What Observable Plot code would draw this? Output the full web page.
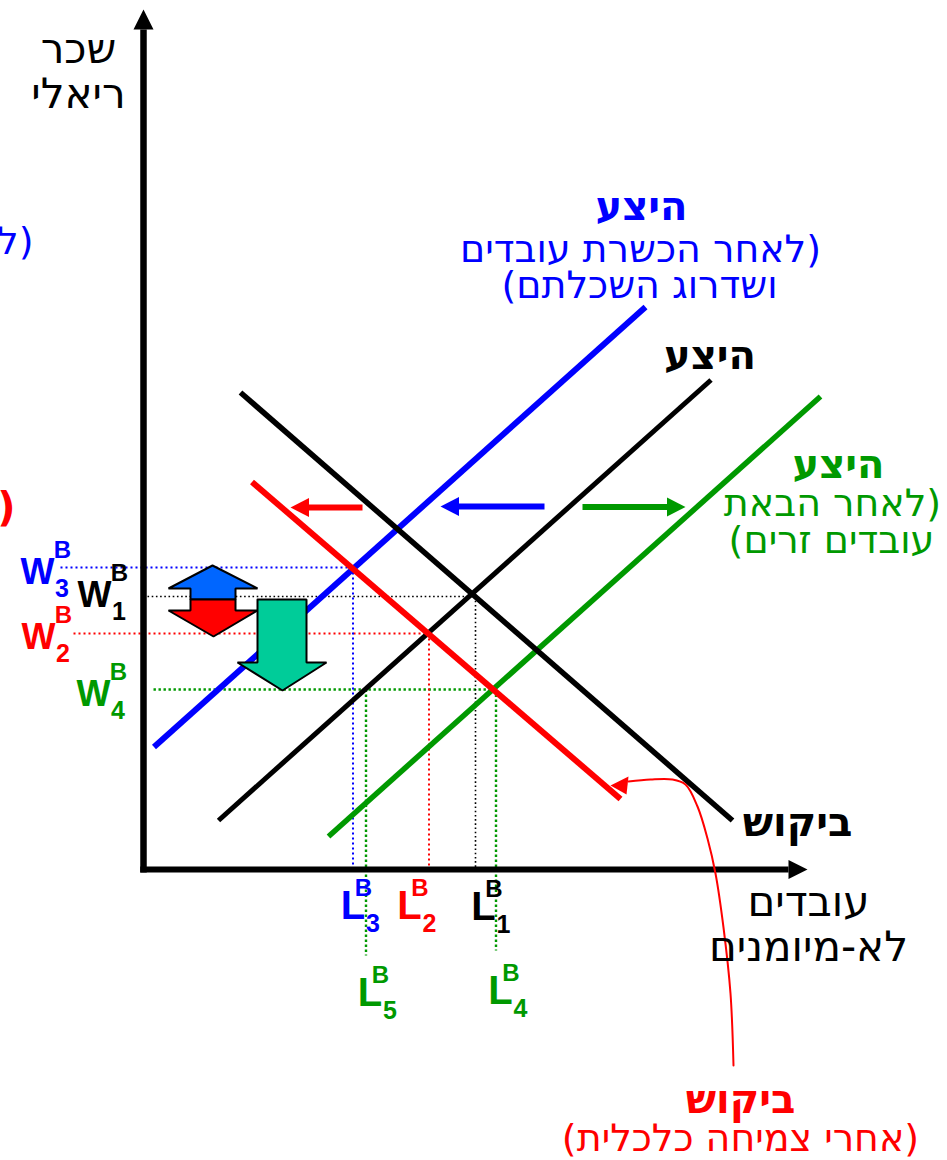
<!DOCTYPE html>
<html><head><meta charset="utf-8">
<script src="https://cdn.jsdelivr.net/npm/d3@7"></script>
<script src="https://cdn.jsdelivr.net/npm/@observablehq/plot@0.6"></script>
<style>
html,body{margin:0;padding:0;background:#fff;}
#chart svg{display:block;background:#fff;}
</style></head>
<body><div id="chart"></div>
<script>
const curveNames  = ["S1", "S3", "S4", "D1", "D2"];
const curveStartX = [1.50, 0.21, 3.70, 1.94, 2.17];
const curveStartY = [0.98, 2.45, 0.66, 9.54, 7.75];
const curveEndX   = [11.35, 10.04, 13.54, 11.78, 9.54];
const curveEndY   = [9.79, 11.25, 9.46, 0.98, 1.41];

const wageNames  = ["W1", "W2", "W3", "W4"];
const wageSubs   = ["1", "2", "3", "4"];
const wageValues = [5.46, 4.72, 6.04, 3.60];
const wageGuideStart = [0.08, -1.40, -1.66, 0.20];   // where each dotted wage guide begins
const wageGuideEnd   = [6.64, 5.71, 4.19, 7.05];     // = L1, L2, L3, L4

const laborNames  = ["L1", "L2", "L3", "L4", "L5"];
const laborSubs   = ["1", "2", "3", "4", "5"];
const laborValues = [6.64, 5.71, 4.19, 7.05, 4.45];
const laborGuideTop    = [5.46, 4.72, 6.04, 3.60, 3.60];
const laborGuideBottom = [0, 0, 0, -1.62, -1.72];

const shiftFromX = [4.38, 8.02, 8.78];   // D1→D2, S1→S3, S1→S4
const shiftToX   = [2.94, 5.94, 10.84];
const shiftY     = [7.24, 7.26, 7.25];

const upArrowX   = [1.38, 2.28, 1.84, 1.84, 0.94, 0.94, 0.50];
const upArrowY   = [6.08, 5.62, 5.62, 5.40, 5.40, 5.62, 5.62];
const downArrowX = [0.94, 1.84, 1.84, 2.28, 1.40, 0.50, 0.94];
const downArrowY = [5.40, 5.40, 5.18, 5.18, 4.66, 5.18, 5.18];
const bigDownX   = [2.28, 3.26, 3.26, 3.66, 2.78, 1.88, 2.28];
const bigDownY   = [5.40, 5.40, 4.14, 4.14, 3.58, 4.14, 4.14];

const calloutX = [9.70, 10.14, 10.58, 10.84, 11.08, 11.28, 11.44, 11.60, 11.74, 11.80];
const calloutY = [1.76, 1.80, 1.80, 1.70, 1.26, 0.62, -0.08, -1.16, -2.48, -3.92];
const calloutHeadX = [9.34, 9.70, 9.66];
const calloutHeadY = [1.68, 1.86, 1.50];

const yAxisTop = 17.2;
const xAxisEnd = 13.28;

const yAxisLabel = ["שכר", "ריאלי"];
const xAxisLabel = ["עובדים", "לא-מיומנים"];
const supplyLabel = "היצע";
const demandLabel = "ביקוש";
const s3Note = ["(לאחר הכשרת עובדים", "ושדרוג השכלתם)"];
const s4Note = ["(לאחר הבאת", "עובדים זרים)"];
const d2Note = "(אחרי צמיחה כלכלית)";
const supLetter = "B";

// ---------------- STYLE ----------------
const BLUE = "#0000ff", RED = "#ff0000", GREEN = "#009900", BLACK = "#000000";
const curveStyle = {
  S1: {stroke: BLACK, w: 5}, S3: {stroke: BLUE, w: 6}, S4: {stroke: GREEN, w: 5.5},
  D1: {stroke: BLACK, w: 5.5}, D2: {stroke: RED, w: 6}
};
const wageColor  = {W1: BLACK, W2: RED, W3: BLUE, W4: GREEN};
const laborColor = {L1: BLACK, L2: RED, L3: BLUE, L4: GREEN, L5: GREEN};
const dotStyle = {
  [BLACK]: {w: 1.6, dash: "1.6 2.6"},
  [RED]:   {w: 2,   dash: "2 3"},
  [BLUE]:  {w: 2,   dash: "2 3"},
  [GREEN]: {w: 2.4, dash: "2.4 2.6"}
};
// label offsets in px (layout)
const wOff = {W1: [-49, 10], W2: [-105, 15], W3: [-106, 16], W4: [-50, 16]};
const lOff = {L1: [8, 50], L2: [-19.5, 49], L3: [0, 49], L4: [4.5, 134], L5: [4, 136]};
const FONT = "'Liberation Sans', Arial, sans-serif";
const HEB = "'DejaVu Sans', sans-serif";
const AXIS_SIZE = 42, BOLD_SIZE = 40, NOTE_SIZE = 38;

// ---------------- BUILD ----------------
const curves = curveNames.map((name, i) => ({name, x1: curveStartX[i], y1: curveStartY[i], x2: curveEndX[i], y2: curveEndY[i]}));
const hGuides = wageNames.map((name, i) => ({name, x1: wageGuideStart[i], x2: wageGuideEnd[i], y: wageValues[i], c: wageColor[name]}));
const vGuides = laborNames.map((name, i) => ({name, x: laborValues[i], y1: laborGuideTop[i], y2: laborGuideBottom[i], c: laborColor[name]}));
const poly = (xs, ys) => { const p = xs.map((x, i) => ({x, y: ys[i]})); p.push(p[0]); return p; };

const marks = [];

// dotted guides
for (const g of hGuides) {
  const s = dotStyle[g.c];
  marks.push(Plot.link([g], {x1: "x1", x2: "x2", y1: "y", y2: "y", stroke: g.c, strokeWidth: s.w, strokeDasharray: s.dash, strokeLinecap: "butt"}));
}
for (const g of vGuides) {
  const s = dotStyle[g.c];
  marks.push(Plot.link([g], {x1: "x", x2: "x", y1: "y1", y2: "y2", stroke: g.c, strokeWidth: s.w, strokeDasharray: s.dash, strokeLinecap: "butt"}));
}

// supply & demand curves
for (const name of ["S4", "S1", "S3", "D1", "D2"]) {
  const c = curves.find(d => d.name === name);
  marks.push(Plot.link([c], {x1: "x1", y1: "y1", x2: "x2", y2: "y2", stroke: curveStyle[name].stroke, strokeWidth: curveStyle[name].w, strokeLinecap: "butt"}));
}

// shift arrows
const shiftColors = [RED, BLUE, GREEN];
shiftFromX.forEach((fx, i) => {
  const tx = shiftToX[i], y = shiftY[i], sgn = Math.sign(tx - fx);
  const headLen = 0.37, half = 0.19;
  const base = tx - sgn * headLen;
  marks.push(Plot.link([{fx, bx: base + sgn * 0.05, y}], {x1: "fx", x2: "bx", y1: "y", y2: "y", stroke: shiftColors[i], strokeWidth: 6, strokeLinecap: "butt"}));
  marks.push(Plot.line(poly([tx, base, base], [y, y + half, y - half]), {x: "x", y: "y", fill: shiftColors[i], stroke: "none"}));
});

// block arrows
marks.push(Plot.line(poly(upArrowX, upArrowY), {x: "x", y: "y", fill: "#0066ff", stroke: BLACK, strokeWidth: 2, strokeLinejoin: "miter"}));
marks.push(Plot.line(poly(downArrowX, downArrowY), {x: "x", y: "y", fill: "#ff0000", stroke: BLACK, strokeWidth: 2, strokeLinejoin: "miter"}));
marks.push(Plot.line(poly(bigDownX, bigDownY), {x: "x", y: "y", fill: "#00cc99", stroke: BLACK, strokeWidth: 2, strokeLinejoin: "miter"}));

// axes
marks.push(Plot.link([{x: 0, y1: -0.06, y2: yAxisTop - 0.4}], {x1: "x", x2: "x", y1: "y1", y2: "y2", stroke: BLACK, strokeWidth: 6.5, strokeLinecap: "butt"}));
marks.push(Plot.line(poly([0, -0.2, 0.2], [yAxisTop, yAxisTop - 0.4, yAxisTop - 0.4]), {x: "x", y: "y", fill: BLACK, stroke: "none"}));
marks.push(Plot.link([{y: 0, x1: -0.065, x2: xAxisEnd - 0.38}], {x1: "x1", x2: "x2", y1: "y", y2: "y", stroke: BLACK, strokeWidth: 6, strokeLinecap: "butt"}));
marks.push(Plot.line(poly([xAxisEnd, xAxisEnd - 0.38, xAxisEnd - 0.38], [0, 0.19, -0.19]), {x: "x", y: "y", fill: BLACK, stroke: "none"}));

// callout
marks.push(Plot.line(calloutX.map((x, i) => ({x, y: calloutY[i]})), {x: "x", y: "y", stroke: RED, strokeWidth: 2, curve: "catmull-rom"}));
marks.push(Plot.line(poly(calloutHeadX, calloutHeadY), {x: "x", y: "y", fill: RED, stroke: "none"}));

// text helper
function txt(t, x, y, dx, dy, size, weight, fill, anchor = "middle", family = FONT) {
  return Plot.text([{x, y, t}], {x: "x", y: "y", text: "t", dx, dy, fontSize: size, fontWeight: weight, fill, textAnchor: anchor, lineAnchor: "bottom", fontFamily: family});
}
const heb = (t, x, y, dx, dy, size, weight, fill, anchor = "middle") => txt(t, x, y, dx, dy, size, weight, fill, anchor, HEB);

// wage labels
wageNames.forEach((name, i) => {
  const [dx, dy] = wOff[name], c = wageColor[name], y = wageValues[i];
  marks.push(txt("W", 0, y, dx, dy, 36, "bold", c));
  marks.push(txt(supLetter, 0, y, dx + 25, dy - 25.5, 24, "bold", c));
  marks.push(txt(wageSubs[i], 0, y, dx + 24.5, dy + 13, 25, "bold", c));
});
// labor labels
laborNames.forEach((name, i) => {
  const [dx, dy] = lOff[name], c = laborColor[name], x = laborValues[i];
  marks.push(txt("L", x, 0, dx, dy, 40, "bold", c));
  marks.push(txt(supLetter, x, 0, dx + 10.5, dy - 23, 24, "bold", c));
  marks.push(txt(laborSubs[i], x, 0, dx + 20, dy + 13.5, 25, "bold", c));
});

const c = Object.fromEntries(curves.map(d => [d.name, d]));
// axis titles
marks.push(heb(yAxisLabel[0], 0, yAxisTop - 0.4, -65, 33, AXIS_SIZE, "normal", BLACK));
marks.push(heb(yAxisLabel[1], 0, yAxisTop - 0.4, -65, 78, AXIS_SIZE, "normal", BLACK));
marks.push(heb(xAxisLabel[0], xAxisEnd - 0.38, 0, 20, 46, AXIS_SIZE, "normal", BLACK));
marks.push(heb(xAxisLabel[1], xAxisEnd - 0.38, 0, 20, 91, AXIS_SIZE, "normal", BLACK));
// curve labels
marks.push(heb(supplyLabel, c.S3.x2, c.S3.y2, -4, -87, BOLD_SIZE, "bold", BLUE));
marks.push(heb(s3Note[0], c.S3.x2, c.S3.y2, -5, -45, NOTE_SIZE, "normal", BLUE));
marks.push(heb(s3Note[1], c.S3.x2, c.S3.y2, -6, -9, NOTE_SIZE, "normal", BLUE));
marks.push(heb(supplyLabel, c.S1.x2, c.S1.y2, -1, -11, BOLD_SIZE, "bold", BLACK));
marks.push(heb(supplyLabel, c.S4.x2, c.S4.y2, 18, 81, BOLD_SIZE, "bold", GREEN));
marks.push(heb(s4Note[0], c.S4.x2, c.S4.y2, 12, 119, NOTE_SIZE, "normal", GREEN));
marks.push(heb(s4Note[1], c.S4.x2, c.S4.y2, 11, 156, NOTE_SIZE, "normal", GREEN));
marks.push(heb(demandLabel, c.D1.x2, c.D1.y2, 65, 15, BOLD_SIZE, "bold", BLACK));
const cEndX = calloutX[calloutX.length - 1], cEndY = calloutY[calloutY.length - 1];
marks.push(heb(demandLabel, cEndX, cEndY, 7, 47, BOLD_SIZE, "bold", RED));
marks.push(heb(d2Note, cEndX, cEndY, 7, 85, NOTE_SIZE, "normal", RED));
// fragments of labels cut off at the left edge
marks.push(heb(s3Note[0], 0, 0, -110, -616, NOTE_SIZE, "normal", BLUE, "start"));
marks.push(heb(d2Note, 0, 0, -128, -349, BOLD_SIZE, "bold", RED, "start"));

const chart = Plot.plot({
  width: 947, height: 1160,
  marginLeft: 143, marginRight: 4, marginTop: 19, marginBottom: 291,
  x: {domain: [0, 16], axis: null},
  y: {domain: [0, 17], axis: null},
  style: {fontFamily: FONT, background: "#fff", overflow: "visible"},
  marks
});
chart.querySelectorAll("text").forEach(t => {
  if (/[\u0590-\u05FF]/.test(t.textContent)) t.setAttribute("direction", "rtl");
});
document.getElementById("chart").appendChild(chart);
</script>
</body></html>
